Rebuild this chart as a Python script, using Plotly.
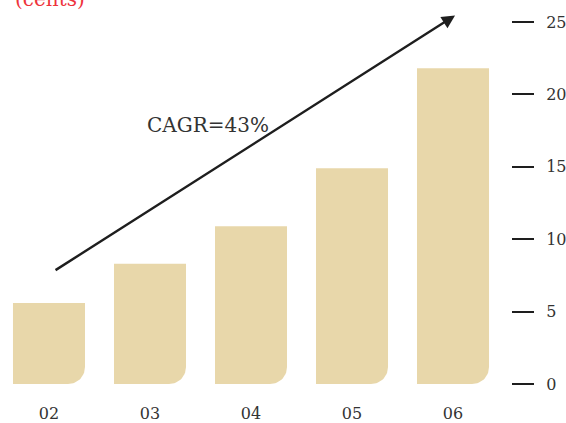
import numpy as np
import plotly.graph_objects as go

# Earnings per share by fiscal year (cents)
years = ["02", "03", "04", "05", "06"]
eps_cents = [5.6, 8.3, 10.9, 14.9, 21.8]
y_ticks = [0, 5, 10, 15, 20, 25]
cagr_label = "CAGR=43%"
unit_label = "(cents)"

BAR_COLOR = "#E8D7AA"
INK = "#1E1E1E"
TEXT = "#333333"
SERIF = "DejaVu Serif"

W, H = 566, 423
MARGIN = dict(l=0, r=55, t=10, b=30)
X_RANGE = [-0.485, 4.574]
Y_RANGE = [-0.62, 25.83]
BAR_W = 0.713
CORNER_PX = 17

# data units per pixel, so the rounded corner stays circular on screen
plot_w = W - MARGIN["l"] - MARGIN["r"]
plot_h = H - MARGIN["t"] - MARGIN["b"]
rx = CORNER_PX * (X_RANGE[1] - X_RANGE[0]) / plot_w
ry = CORNER_PX * (Y_RANGE[1] - Y_RANGE[0]) / plot_h

fig = go.Figure()

# Each bar: square top and bottom-left, rounded bottom-right corner
theta = np.linspace(0, -np.pi / 2, 16)
for i, v in enumerate(eps_cents):
    xl, xr = i - BAR_W / 2, i + BAR_W / 2
    xs = [xl, xr, xr] + list(xr - rx + rx * np.cos(theta)) + [xl, xl]
    ys = [v, v, ry] + list(ry + ry * np.sin(theta)) + [0, v]
    fig.add_trace(go.Scatter(
        x=xs, y=ys, mode="lines", fill="toself", fillcolor=BAR_COLOR,
        line=dict(width=0, color=BAR_COLOR), hoverinfo="skip", showlegend=False,
    ))

# Growth arrow
fig.add_annotation(
    x=4.02, y=25.45, ax=0.05, ay=7.8,
    xref="x", yref="y", axref="x", ayref="y",
    showarrow=True, arrowhead=2, arrowsize=1.1, arrowwidth=2.4,
    arrowcolor=INK, text="",
)
fig.add_annotation(
    x=0.95, y=17.9, xref="x", yref="y", text=cagr_label,
    showarrow=False, xanchor="left", yanchor="middle",
    font=dict(family=SERIF, size=20, color=TEXT),
)
fig.add_annotation(
    x=13 / plot_w, y=1 + 11 / plot_h, xref="paper", yref="paper", text=unit_label,
    showarrow=False, xanchor="left", yanchor="middle",
    font=dict(family=SERIF, size=20, color="#EE333B"),
)

fig.update_layout(
    width=W, height=H, margin=MARGIN,
    paper_bgcolor="white", plot_bgcolor="white",
    xaxis=dict(
        range=X_RANGE, tickvals=list(range(len(years))), ticktext=years,
        showgrid=False, zeroline=False, showline=False, ticks="",
        ticklabelstandoff=9, automargin=False,
        tickfont=dict(family=SERIF, size=16, color=TEXT),
    ),
    yaxis=dict(
        side="right", range=Y_RANGE,
        tickvals=y_ticks, ticks="outside", ticklen=22, tickwidth=1.5,
        tickcolor=INK, ticklabelstandoff=9, automargin=False,
        showgrid=False, zeroline=False, showline=False,
        tickfont=dict(family=SERIF, size=16, color=TEXT),
    ),
)

fig.write_html("out.html")
